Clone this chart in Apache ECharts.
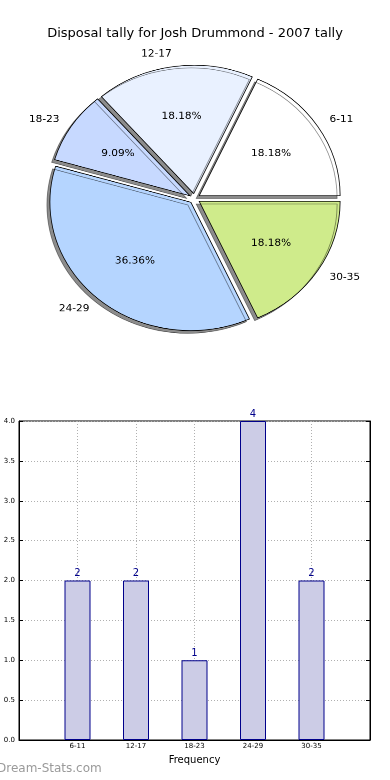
<!DOCTYPE html>
<html><head><meta charset="utf-8">
<script src="https://cdn.jsdelivr.net/npm/echarts@6/dist/echarts.min.js"></script>
<style>
html,body{margin:0;padding:0;background:#fff;width:390px;height:780px;overflow:hidden}
#main{position:absolute;left:0;top:0;width:390px;height:780px}
#pie{position:absolute;left:0;top:0;width:390px;height:400px;transform:scaleY(0.91);transform-origin:0 198.5px}
</style></head><body>
<div id="main"></div><div id="pie"></div>
<script>
const categories = ['6-11', '12-17', '18-23', '24-29', '30-35'];
const counts = [2, 2, 1, 4, 2];
const sliceColors = ['#ffffff', '#e9f1ff', '#c7d9ff', '#b5d5ff', '#cfeb8b'];
const titleText = 'Disposal tally for Josh Drummond - 2007 tally';
const xAxisName = 'Frequency';
const watermark = 'Dream-Stats.com';

const FONT = 'DejaVu Sans';
const R = 141;
const total = counts.reduce((a, b) => a + b, 0);

// ---- pie (drawn in a vertically squashed container so it becomes an ellipse like the original)
const pieData = categories.map((c, i) => ({
  name: c, value: counts[i], selected: true,
  itemStyle: { color: sliceColors[i] }
}));
const pieDataLbl = categories.map((c, i) => ({ name: c, value: counts[i], selected: true }));
const pie = echarts.init(document.getElementById('pie'), null, { devicePixelRatio: 2 });
pie.setOption({
  animation: false,
  series: [
    {
      type: 'pie', center: [194.5, 198.5], radius: [0, R],
      startAngle: 0, clockwise: false,
      selectedMode: 'multiple', selectedOffset: 5.5,
      avoidLabelOverlap: false, silent: true,
      emphasis: { disabled: true },
      itemStyle: {
        borderColor: '#000', borderWidth: 0.8,
        shadowColor: 'rgba(0,0,0,0.45)', shadowOffsetX: -3, shadowOffsetY: 3, shadowBlur: 0
      },
      label: {
        show: true, position: 'outside', formatter: '{b}',
        fontSize: 10.5, color: '#000', fontFamily: FONT, distanceToLabelLine: 0
      },
      labelLine: { show: false, length: 14, length2: 0 },
      data: pieData
    },
    {
      type: 'pie', center: [194.5, 198.5], radius: [0, R * 1.17],
      startAngle: 0, clockwise: false,
      selectedMode: 'multiple', selectedOffset: 5.5,
      avoidLabelOverlap: false, silent: true,
      emphasis: { disabled: true },
      itemStyle: { color: 'transparent', borderWidth: 0 },
      label: {
        show: true, position: 'inside',
        formatter: p => (p.value / total * 100).toFixed(2) + '%',
        fontSize: 10.5, color: '#000', fontFamily: FONT
      },
      labelLine: { show: false },
      data: pieDataLbl
    }
  ]
});

// ---- bar chart, title, watermark
const main = echarts.init(document.getElementById('main'));
const gridDot = { type: [1, 2], color: '#b0b0b0', width: 1 };
main.setOption({
  animation: false,
  title: {
    text: titleText, left: 'center', top: 22,
    textStyle: { fontSize: 13, fontWeight: 'normal', fontFamily: FONT, color: '#000' }
  },
  graphic: [{
    type: 'text', left: -3, top: 763,
    style: { text: watermark, font: '12px "DejaVu Sans"', fill: '#9a9a9a' }
  }],
  grid: { left: 19, right: 20, top: 421, bottom: 40, show: true, borderColor: '#000', borderWidth: 1 },
  xAxis: {
    type: 'value', min: -1, max: 5, interval: 1,
    name: xAxisName, nameLocation: 'middle', nameGap: 15,
    nameTextStyle: { fontSize: 10, fontFamily: FONT, color: '#000' },
    axisLine: { show: true, onZero: false, lineStyle: { color: '#000' } },
    axisTick: { show: true, inside: true, length: 4, lineStyle: { color: '#000' } },
    axisLabel: { fontSize: 7, fontFamily: FONT, color: '#000', margin: 3,
      formatter: v => categories[v] || '' },
    splitLine: { show: true, lineStyle: gridDot }
  },
  yAxis: [
    {
      type: 'value', min: 0, max: 4, interval: 0.5,
      axisLine: { show: true, onZero: false, lineStyle: { color: '#000' } },
      axisTick: { show: true, inside: true, length: 4, lineStyle: { color: '#000' } },
      axisLabel: { fontSize: 7, fontFamily: FONT, color: '#000', margin: 4,
        formatter: v => v.toFixed(1) },
      splitLine: { show: true, lineStyle: gridDot }
    },
    {
      type: 'value', min: 0, max: 4, interval: 0.5, position: 'right',
      axisLine: { show: true, onZero: false, lineStyle: { color: '#000' } },
      axisTick: { show: true, inside: true, length: 4, lineStyle: { color: '#000' } },
      axisLabel: { show: false }, splitLine: { show: false }
    }
  ],
  series: [{
    type: 'bar', data: counts.map((v, i) => [i, v]), barWidth: 26,
    itemStyle: { color: '#ccccE6', borderColor: '#00008b', borderWidth: 1 },
    label: { show: true, position: 'top', distance: 2, color: '#00008b', fontSize: 10, fontFamily: FONT }
  }]
});
</script>
</body></html>
